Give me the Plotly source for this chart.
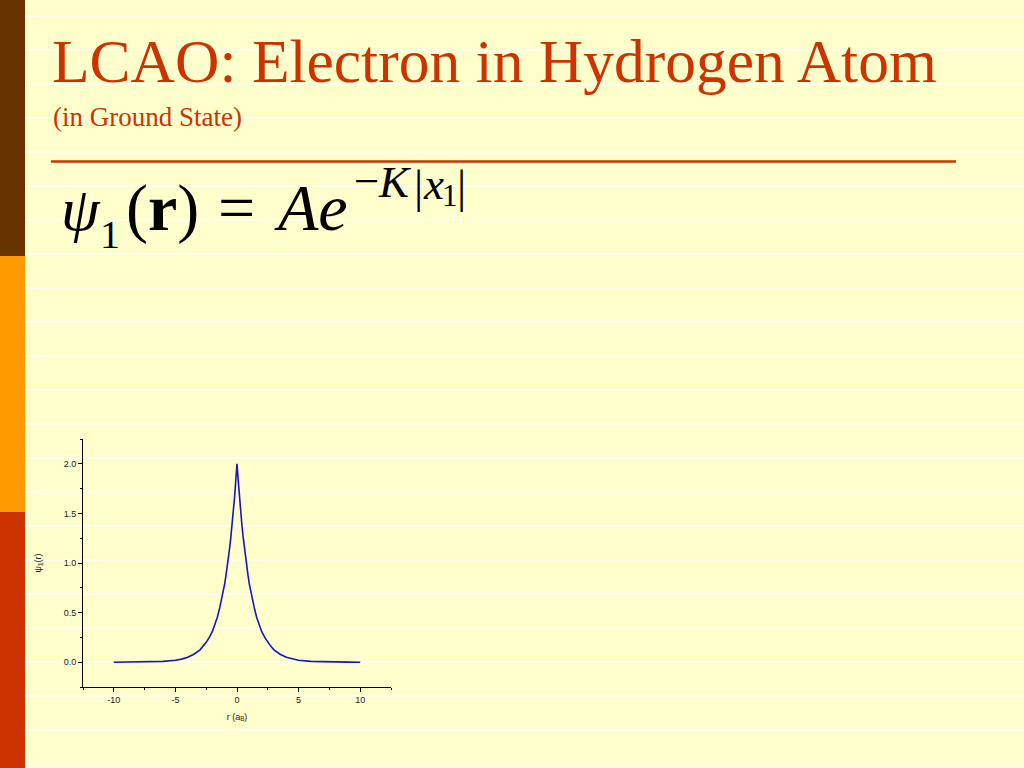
import plotly.graph_objects as go

# ---- data ----
r_values = [-10, -9, -8, -7, -6, -5, -4.5, -4, -3.5, -3, -2.75, -2.5, -2.25, -2, -1.8, -1.6, -1.4, -1.2,
            -1.0, -0.9, -0.8, -0.7, -0.6, -0.5, -0.4, -0.3, -0.2, -0.1, 0,
            0.1, 0.2, 0.3, 0.4, 0.5, 0.6, 0.7, 0.8, 0.9, 1.0,
            1.2, 1.4, 1.6, 1.8, 2, 2.25, 2.5, 2.75, 3, 3.5, 4, 4.5, 5, 6, 7, 8, 9, 10]
psi_values = [0.0, 0.0005, 0.001, 0.003, 0.008, 0.02, 0.031, 0.05, 0.08, 0.125, 0.16, 0.20, 0.25, 0.31,
              0.38, 0.45, 0.55, 0.66,
              0.79, 0.87, 0.95, 1.05, 1.15, 1.26, 1.38, 1.52, 1.66, 1.83, 2.0,
              1.83, 1.66, 1.52, 1.38, 1.26, 1.15, 1.05, 0.95, 0.87, 0.79,
              0.66, 0.55, 0.45, 0.38, 0.31, 0.25, 0.20, 0.16, 0.125, 0.08, 0.05, 0.031, 0.02, 0.008,
              0.003, 0.001, 0.0005, 0.0]
x_range = [-12.5, 12.5]
y_range = [-0.25, 2.25]
x_tickvals = [-10, -5, 0, 5, 10]
x_ticktext = ["-10", "-5", "0", "5", "10"]
y_tickvals = [0.0, 0.5, 1.0, 1.5, 2.0]
y_ticktext = ["0.0", "0.5", "1.0", "1.5", "2.0"]

title_text = "LCAO: Electron in Hydrogen Atom"
subtitle_text = "(in Ground State)"

W, H = 1024, 768
def px(x):
    return x / W
def py(y):
    return 1 - y / H

fig = go.Figure()
fig.add_trace(go.Scatter(x=r_values, y=psi_values, mode="lines",
                         line=dict(color="#1414CC", width=1.6), showlegend=False))

shapes = []
# background stripes
for i in range(0, 23):
    y = 16 + i * 34
    shapes.append(dict(type="line", xref="paper", yref="paper", x0=px(25), x1=1,
                       y0=py(y), y1=py(y), line=dict(color="rgba(255,255,255,0.6)", width=2), layer="below"))
# left bars
for (y0, y1, c) in [(0, 256, "#663300"), (256, 512, "#FF9900"), (512, 768, "#CC3300")]:
    shapes.append(dict(type="rect", xref="paper", yref="paper", x0=0, x1=px(25),
                       y0=py(y1), y1=py(y0), fillcolor=c, line=dict(width=0), layer="below"))
# title underline
shapes.append(dict(type="line", xref="paper", yref="paper", x0=px(51), x1=px(956),
                   y0=py(161.5), y1=py(161.5), line=dict(color="#CC3300", width=2.5)))

SERIF = "Liberation Serif"

def txt(text, x_left, baseline, size, color="black"):
    # centre of the text box is about 0.3375*size above the baseline
    return dict(text=text, x=px(x_left), y=py(baseline - 0.3375 * size), xref="paper", yref="paper",
                xanchor="left", yanchor="middle", showarrow=False,
                font=dict(family=SERIF, size=size, color=color))

annotations = [
    txt(title_text, 50, 82, 61.5, "#CC3300"),
    txt(subtitle_text, 51, 126, 27, "#CC3300"),
    # equation pieces
    txt("<i>ψ</i>", 59, 230, 62),
    txt("1", 98, 248, 40),
    txt("(<b>r</b>)", 124, 230, 66),
    txt("=", 216, 230, 66),
    txt("<i>Ae</i>", 272, 230, 66),
    txt("−", 352, 196, 45),
    txt("<i>K</i>", 376, 197, 45),
    txt("|", 412, 202, 46),
    txt("<i>x</i>", 421, 199, 45),
    txt("1", 440, 206, 31),
    txt("|", 455, 202, 46),
]

axis_common = dict(showline=True, linecolor="black", linewidth=1, ticks="outside", ticklen=4,
                   tickcolor="black", showgrid=False, zeroline=False,
                   tickfont=dict(family="Liberation Sans", size=9, color="#222222"))

fig.update_layout(
    width=W, height=H, margin=dict(l=0, r=0, t=0, b=0),
    paper_bgcolor="#FFFFCC", plot_bgcolor="rgba(0,0,0,0)",
    shapes=shapes, annotations=annotations,
    xaxis=dict(domain=[px(83), px(391)], range=x_range, tickmode="array",
               tickvals=x_tickvals, ticktext=x_ticktext,
               minor=dict(dtick=2.5, tick0=0, ticks="outside", ticklen=2, tickcolor="black"),
               title=dict(text="r (a<sub>B</sub>)", font=dict(family="Liberation Sans", size=9, color="#222222"), standoff=9),
               **axis_common),
    yaxis=dict(domain=[1 - 687 / H, 1 - 439 / H], range=y_range, tickmode="array",
               tickvals=y_tickvals, ticktext=y_ticktext,
               minor=dict(dtick=0.25, tick0=0, ticks="outside", ticklen=2, tickcolor="black"),
               title=dict(text="ψ<sub>1</sub>(r)", font=dict(family="Liberation Sans", size=9, color="#222222"), standoff=20),
               **axis_common),
)

fig.write_html("out.html", config={"displayModeBar": False},
               post_script="document.body.style.margin='0';document.body.style.overflow='hidden';")
